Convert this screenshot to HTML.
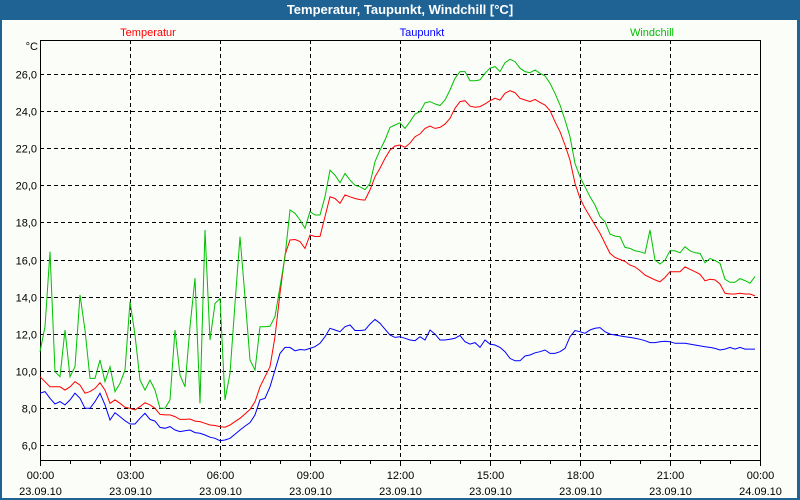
<!DOCTYPE html>
<html><head><meta charset="utf-8"><style>
html,body{margin:0;padding:0;width:800px;height:500px;overflow:hidden;background:#1f6395;font-family:"Liberation Sans",sans-serif}
#frame{position:absolute;left:2px;top:20px;width:795px;height:478px;background:#fbfdf9}
#title{position:absolute;left:0;top:0;width:800px;height:20px;line-height:20px;text-align:center;color:#fff;font-weight:bold;font-size:13px}
svg{position:absolute;left:0;top:0}
svg text{font-family:"Liberation Sans",sans-serif;font-size:11px}
</style></head><body>
<div id="frame"></div>
<div id="title">Temperatur, Taupunkt, Windchill [°C]</div>
<svg id="chart" width="800" height="500"></svg>
<script>
const yTicks=[6,8,10,12,14,16,18,20,22,24,26];
const yTickLabels=["6,0","8,0","10,0","12,0","14,0","16,0","18,0","20,0","22,0","24,0","26,0"];
const xTickHours=[0,3,6,9,12,15,18,21,24];
const xTickLabels=["00:00","03:00","06:00","09:00","12:00","15:00","18:00","21:00","00:00"];
const xTickDates=["23.09.10","23.09.10","23.09.10","23.09.10","23.09.10","23.09.10","23.09.10","23.09.10","24.09.10"];
const stepMinutes=10;
const temperatur=[9.68,9.41,9.14,9.14,9.14,8.96,9.14,9.41,9.23,8.79,8.88,9.05,9.36,8.96,8.25,8.43,8.25,8.03,7.98,7.89,8.07,8.28,8.16,7.98,7.65,7.62,7.62,7.53,7.38,7.38,7.40,7.29,7.26,7.17,7.08,7.05,6.99,6.96,7.08,7.26,7.44,7.67,7.92,8.33,9.14,9.68,10.22,11.84,14.18,16.24,17.05,17.08,16.97,16.6,17.32,17.24,17.24,18.31,19.38,19.29,19.03,19.48,19.38,19.29,19.23,19.2,19.75,20.46,20.92,21.45,21.9,22.12,22.17,22.05,22.27,22.62,22.77,23.07,23.19,23.07,23.12,23.3,23.61,24.15,24.51,24.56,24.27,24.21,24.24,24.39,24.56,24.69,24.6,24.96,25.1,25.0,24.69,24.6,24.51,24.63,24.47,24.33,24.03,23.43,22.89,22.17,21.36,20.1,19.3,18.76,18.31,17.86,17.41,16.87,16.33,16.11,16.0,15.9,15.7,15.6,15.4,15.16,15.03,14.9,14.8,15.03,15.34,15.34,15.34,15.6,15.47,15.34,15.2,14.85,14.93,14.9,14.68,14.18,14.14,14.14,14.18,14.14,14.14,14.04];
const taupunkt=[8.79,8.88,8.52,8.21,8.34,8.16,8.43,8.79,8.52,7.98,7.98,8.34,8.79,8.16,7.35,7.74,7.53,7.31,7.13,7.13,7.44,7.71,7.38,7.29,6.95,6.9,6.99,6.81,6.72,6.77,6.81,6.67,6.63,6.54,6.42,6.36,6.23,6.27,6.36,6.58,6.81,7.02,7.2,7.62,8.43,8.52,9.14,10.04,10.94,11.26,11.26,11.08,11.15,11.12,11.21,11.3,11.48,11.84,12.29,12.2,12.11,12.38,12.47,12.17,12.17,12.2,12.52,12.77,12.56,12.24,11.93,11.8,11.84,11.75,11.66,11.62,11.84,11.66,12.2,11.98,11.66,11.66,11.7,11.75,11.91,11.57,11.44,11.52,11.26,11.66,11.44,11.39,11.26,11.03,10.67,10.54,10.54,10.8,10.85,10.97,11.03,11.12,10.94,10.94,11.03,11.21,11.84,12.17,12.11,12.02,12.2,12.29,12.33,12.11,11.98,11.93,11.88,11.84,11.8,11.75,11.7,11.62,11.52,11.52,11.57,11.59,11.57,11.48,11.48,11.48,11.44,11.39,11.34,11.3,11.26,11.21,11.12,11.17,11.26,11.17,11.26,11.17,11.17,11.17];
const windchill=[11.03,12.38,16.42,9.95,9.68,12.2,9.68,10.22,14.09,12.2,9.59,9.59,10.58,9.41,10.22,8.88,9.32,10.04,13.73,11.93,9.5,8.96,9.5,8.96,7.98,7.98,8.43,12.2,9.77,9.14,12.38,14.99,8.25,17.59,11.66,13.63,13.9,8.43,9.86,13.63,17.23,13.99,10.58,10.04,12.38,12.38,12.4,12.92,14.53,16.15,18.67,18.49,18.13,17.68,18.58,18.4,18.4,19.38,20.82,20.55,20.14,20.64,20.28,20.0,19.92,19.77,20.1,21.27,21.9,22.44,23.12,23.25,23.37,23.07,23.43,23.84,23.97,24.45,24.51,24.39,24.3,24.6,25.14,25.77,26.13,26.13,25.64,25.64,25.68,26.04,26.31,26.4,26.13,26.61,26.79,26.67,26.31,26.13,26.07,26.22,26.04,25.9,25.5,24.96,24.33,23.52,22.62,21.18,20.46,19.92,19.38,18.94,18.31,18.04,17.37,17.26,17.23,16.65,16.6,16.47,16.42,16.33,17.59,15.97,15.76,15.97,16.47,16.47,16.36,16.69,16.47,16.36,16.33,15.83,16.06,15.94,15.79,14.93,14.77,14.77,14.97,14.86,14.72,15.08];

const L=40,R=760,T=40,B=460;
function xScale(min){return L+min/1440*(R-L);}
function yScale(v){return 445-(v-6)*18.55;}
const svg=document.getElementById('chart');
const NS='http://www.w3.org/2000/svg';
function mk(tag,attrs){const e=document.createElementNS(NS,tag);for(const k in attrs)e.setAttribute(k,attrs[k]);svg.appendChild(e);return e;}

[["Temperatur","#ff0000",148,"legend-temperatur"],["Taupunkt","#0000ff",422,"legend-taupunkt"],["Windchill","#00c000",652,"legend-windchill"]].forEach(d=>{
  const t=mk('text',{x:d[2],y:36,'text-anchor':'middle',fill:d[1]});
  
  
  t.textContent=d[0];
});
const unit=mk('text',{x:38,y:50,'text-anchor':'end',fill:'#000'});


unit.textContent='°C';

yTicks.forEach((v,i)=>{
  const y=Math.round(yScale(v))+0.5;
  const g=mk('line',{x1:L,x2:R,y1:y,y2:y,stroke:'#000','stroke-dasharray':'4,3','stroke-width':1});
  
  
  const t=mk('text',{x:37,y:y+4,'text-anchor':'end',fill:'#000'});
  
  
  t.textContent=yTickLabels[i];
});
xTickHours.forEach((h,i)=>{
  const x=Math.round(xScale(h*60))+0.5;
  if(h>0&&h<24){
    const g=mk('line',{x1:x,x2:x,y1:T,y2:B,stroke:'#000','stroke-dasharray':'4,3','stroke-width':1});
    
    
  }
  const t=mk('text',{x:x,y:479,'text-anchor':'middle',fill:'#000'});
  
  
  t.textContent=xTickLabels[i];
  const d=mk('text',{x:x,y:495,'text-anchor':'middle',fill:'#000'});
  
  
  d.textContent=xTickDates[i];
});
for(let h=0;h<=24;h++){
  const x=Math.round(xScale(h*60))+0.5;
  const tk=mk('line',{x1:x,x2:x,y1:B,y2:B+(h%3==0?6:4),stroke:'#000'});
  
  
}
const box=mk('rect',{x:L+0.5,y:T+0.5,width:R-L,height:B-T,fill:'none',stroke:'#000','stroke-width':1});



function series(arr,color,name){
  const pts=arr.map((v,i)=>xScale(i*stepMinutes).toFixed(1)+','+yScale(v).toFixed(1)).join(' ');
  const p=mk('polyline',{points:pts,fill:'none',stroke:color,'stroke-width':1});
  
  
}
series(taupunkt,'#0000ff','taupunkt-line');
series(temperatur,'#ff0000','temperatur-line');
series(windchill,'#00c000','windchill-line');
</script>
</body></html>
